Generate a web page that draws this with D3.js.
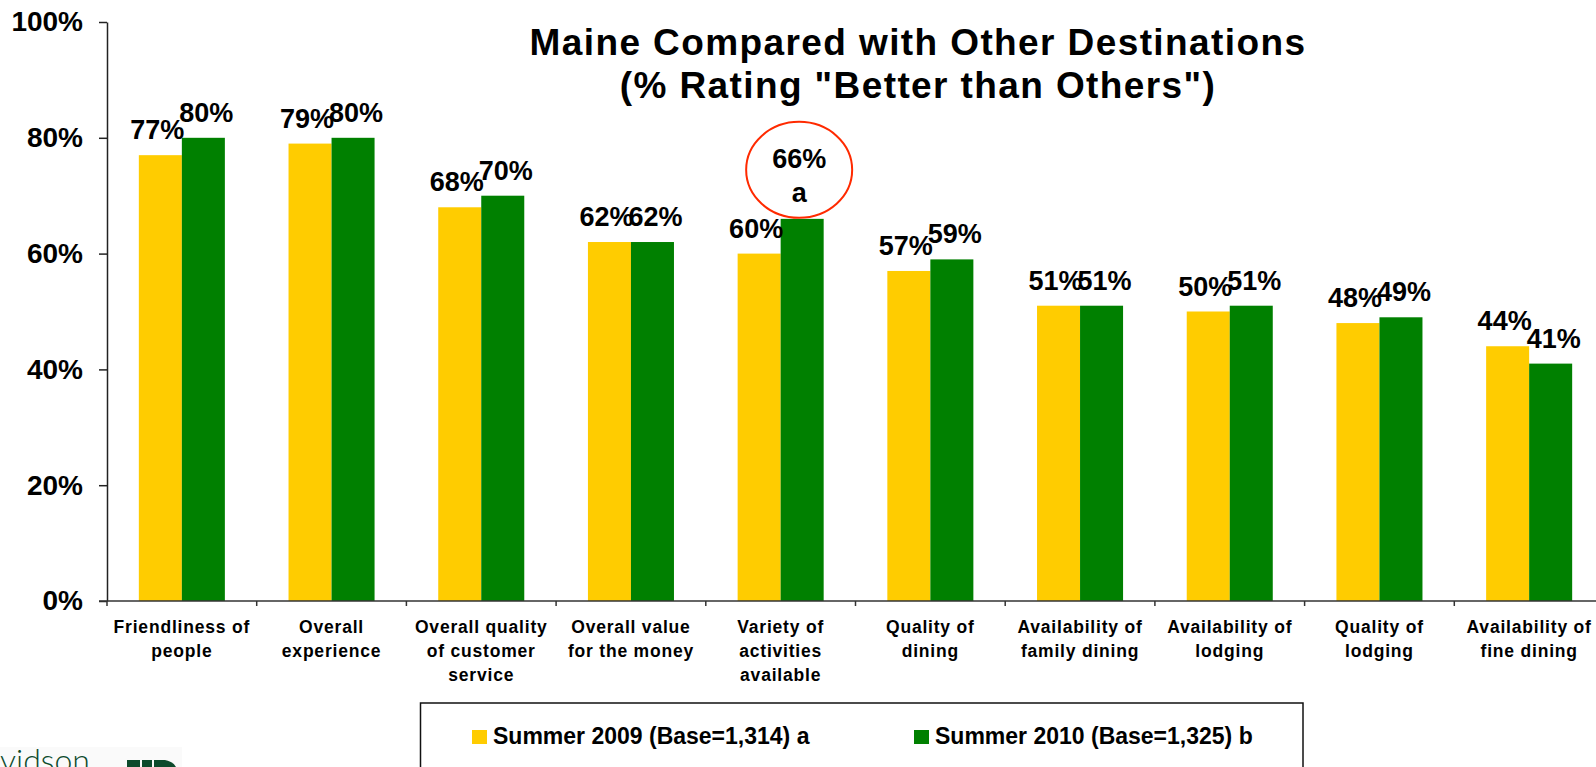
<!DOCTYPE html>
<html>
<head>
<meta charset="UTF-8">
<title>Maine Compared with Other Destinations</title>
<script src="https://cdn.jsdelivr.net/npm/d3@7/dist/d3.min.js"></script>
<style>
  body { margin: 0; background: #fff; }
  svg { display: block; font-family: "Liberation Sans", Arial, sans-serif; font-weight: bold; }
</style>
</head>
<body>
<div id="chart"></div>
<script>

// chart data
var categories = [
  "Friendliness of\npeople",
  "Overall\nexperience",
  "Overall quality\nof customer\nservice",
  "Overall value\nfor the money",
  "Variety of\nactivities\navailable",
  "Quality of\ndining",
  "Availability of\nfamily dining",
  "Availability of\nlodging",
  "Quality of\nlodging",
  "Availability of\nfine dining"
]
var seriesNames = ["Summer 2009 (Base=1,314) a", "Summer 2010 (Base=1,325) b"]
var summer2009 = [77, 79, 68, 62, 60, 57, 51, 50, 48, 44]
var summer2010 = [80, 80, 70, 62, 66, 59, 51, 51, 49, 41]
// significance letters shown with the 2010 values
var sig2010 = ["", "", "", "", "a", "", "", "", "", ""]
var yTicks = [0, 20, 40, 60, 80, 100]

var colors = ["#ffcc00", "#008000"]

var W = 1596, H = 767
var plotLeft = 107, plotTop = 22, plotBottom = 601
var step = 149.7

var svg = d3.select("#chart").append("svg")
  .attr("width", W)
  .attr("height", H)

var y = d3.scaleLinear().domain([0, 100]).range([plotBottom, plotTop])
var x = d3.scaleBand().domain(d3.range(categories.length))
  .range([plotLeft, plotLeft + step * categories.length])
  .padding(0)
var xs = d3.scaleBand().domain([0, 1]).range([0, x.bandwidth()])
  .paddingInner(0).paddingOuter(0.74)

// title
var title = svg.append("text")
  .attr("text-anchor", "middle")
  .attr("font-size", 37)
  .attr("letter-spacing", 1.4)
title.append("tspan").attr("x", 918).attr("y", 55).text("Maine Compared with Other Destinations")
title.append("tspan").attr("x", 918).attr("y", 98).text("(% Rating \"Better than Others\")")

// y axis
var yAxis = svg.append("g")
  .attr("transform", "translate(" + plotLeft + ",0)")
  .call(d3.axisLeft(y).tickValues(yTicks).tickSize(8).tickSizeOuter(0).tickPadding(16)
    .tickFormat(function(d) { return d + "%"; }))
yAxis.select(".domain").attr("stroke", "#222").attr("stroke-width", 1.5)
yAxis.selectAll(".tick line").attr("stroke", "#222").attr("stroke-width", 1.5)
yAxis.selectAll(".tick text")
  .attr("font-size", 28)
  .attr("font-family", "Liberation Sans, Arial, sans-serif")
  .attr("font-weight", "bold")
  .attr("fill", "#000")

// bars
var rows = categories.map(function(c, i) {
  return { i: i, vals: [summer2009[i], summer2010[i]], sig: ["", sig2010[i]] }
})

var groups = svg.selectAll(".grp")
  .data(rows).enter()
  .append("g")
  .attr("class", "grp")
  .attr("transform", function(d) { return "translate(" + x(d.i) + ",0)"; })

groups.selectAll("rect")
  .data(function(d) { return d.vals; }).enter()
  .append("rect")
  .attr("x", function(d, k) { return xs(k); })
  .attr("width", xs.bandwidth())
  .attr("y", function(d) { return y(d); })
  .attr("height", function(d) { return y(0) - y(d); })
  .attr("fill", function(d, k) { return colors[k]; })

// value labels, nudged apart a little like the original
var nudge = [-3, 3]
groups.each(function(row) {
  var g = d3.select(this)
  row.vals.forEach(function(v, k) {
    var cx = xs(k) + xs.bandwidth() / 2
    if (row.sig[k]) {
      // circled value with significance letter
      var cy = y(v) - 49
      g.append("ellipse")
        .attr("cx", cx - 3).attr("cy", cy)
        .attr("rx", 53).attr("ry", 48)
        .attr("fill", "none")
        .attr("stroke", "#ff2a00")
        .attr("stroke-width", 2)
      g.append("text")
        .attr("x", cx - 3).attr("y", cy - 2)
        .attr("text-anchor", "middle")
        .attr("font-size", 27)
        .text(v + "%")
      g.append("text")
        .attr("x", cx - 3).attr("y", cy + 32)
        .attr("text-anchor", "middle")
        .attr("font-size", 27)
        .text(row.sig[k])
    } else {
      g.append("text")
        .attr("x", cx + nudge[k])
        .attr("y", y(v) - 16)
        .attr("text-anchor", "middle")
        .attr("font-size", 27)
        .text(v + "%")
    }
  })
})

// x axis: line with ticks at the group edges
var xAxis = svg.append("g")
xAxis.append("line")
  .attr("x1", plotLeft - 8).attr("x2", W)
  .attr("y1", plotBottom).attr("y2", plotBottom)
  .attr("stroke", "#333").attr("stroke-width", 1.5)
xAxis.selectAll(".xt")
  .data(d3.range(categories.length + 1)).enter()
  .append("line")
  .attr("class", "xt")
  .attr("x1", function(d) { return plotLeft + d * x.step(); })
  .attr("x2", function(d) { return plotLeft + d * x.step(); })
  .attr("y1", plotBottom).attr("y2", plotBottom + 5)
  .attr("stroke", "#333").attr("stroke-width", 1.5)

xAxis.selectAll(".xl")
  .data(categories).enter()
  .append("text")
  .attr("class", "xl")
  .attr("text-anchor", "middle")
  .attr("font-size", 17.5)
  .attr("letter-spacing", 0.8)
  .each(function(d, i) {
    var t = d3.select(this)
    d.split("\n").forEach(function(line, j) {
      t.append("tspan")
        .attr("x", x(i) + x.bandwidth() / 2)
        .attr("y", plotBottom + 32 + j * 24)
        .text(line)
    })
  })

// legend
var legend = svg.append("g")
legend.append("rect")
  .attr("x", 420.5).attr("y", 703)
  .attr("width", 882.5).attr("height", 90)
  .attr("fill", "#fff")
  .attr("stroke", "#111").attr("stroke-width", 1.5)
var items = legend.selectAll(".li")
  .data(seriesNames).enter()
  .append("g")
  .attr("class", "li")
  .attr("transform", function(d, i) { return "translate(" + (472 + i * 442) + ",730)"; })
items.append("rect")
  .attr("width", 15).attr("height", 14)
  .attr("fill", function(d, i) { return colors[i]; })
items.append("text")
  .attr("x", 21).attr("y", 14)
  .attr("font-size", 23)
  .text(function(d) { return d; })

// bit of the company logo, cut off at the bottom-left corner
var logo = svg.append("g")
logo.append("rect").attr("x", 0).attr("y", 747).attr("width", 182).attr("height", 20).attr("fill", "#fafafa")
logo.append("text")
  .attr("x", 0).attr("y", 772)
  .attr("font-family", "Lato, sans-serif")
  .attr("font-weight", 300)
  .attr("font-size", 32)
  .attr("fill", "#0d4a2c")
  .text("vidson")
logo.append("rect").attr("x", 127).attr("y", 760).attr("width", 13).attr("height", 7).attr("fill", "#0d4a2c")
logo.append("rect").attr("x", 142).attr("y", 760).attr("width", 10).attr("height", 7).attr("fill", "#0d4a2c")
logo.append("path").attr("d", "M154,760 L165,760 Q174,762 176,767 L154,767 Z").attr("fill", "#0d4a2c")

</script>
</body>
</html>
